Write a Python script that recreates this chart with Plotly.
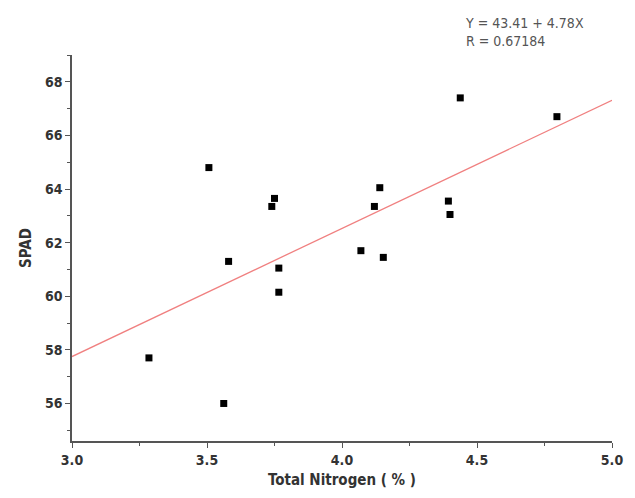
import plotly.graph_objects as go

# Measured samples: total nitrogen (%) and SPAD readings
total_nitrogen = [3.285, 3.507, 3.58, 3.562, 3.74, 3.75, 3.766, 3.766,
                  4.07, 4.12, 4.14, 4.153, 4.394, 4.40, 4.438, 4.796]
spad = [57.7, 64.8, 61.3, 56.0, 63.35, 63.65, 61.05, 60.15,
        61.7, 63.35, 64.05, 61.45, 63.55, 63.05, 67.4, 66.7]

# Linear regression reported for the data
intercept = 43.41
slope = 4.78
r_value = 0.67184
fit_x = [3.0, 5.0]
fit_y = [intercept + slope * v for v in fit_x]

x_ticks = [3.0, 3.5, 4.0, 4.5, 5.0]
y_ticks = [56, 58, 60, 62, 64, 66, 68]

narrow = "DejaVu Sans Condensed, Liberation Sans Narrow, Arial Narrow, sans-serif"
tick_font = dict(family=narrow, size=14, color="#333333", weight="bold")
title_font = dict(family=narrow, size=15, color="#333333")

fig = go.Figure()
fig.add_trace(go.Scatter(
    x=fit_x, y=fit_y, mode="lines",
    line=dict(color="#f08080", width=1.3), hoverinfo="skip",
))
fig.add_trace(go.Scatter(
    x=total_nitrogen, y=spad, mode="markers",
    marker=dict(symbol="square", size=7, color="#000000"), cliponaxis=False,
))

fig.add_annotation(
    xref="paper", yref="paper", x=0.724, y=1.01, xanchor="left", yanchor="bottom",
    text=f"Y = {intercept:.2f} + {slope:.2f}X<br>R = {r_value:.5f}",
    showarrow=False, align="left",
    font=dict(family=narrow, size=14, color="#555555"),
)

axis_common = dict(
    showline=True, linecolor="#555555", linewidth=1.5,
    ticks="outside", ticklen=5, tickwidth=1.2, tickcolor="#555555",
    showgrid=False, zeroline=False, tickfont=tick_font,
)

fig.update_xaxes(
    range=[3.0, 5.0], tickvals=x_ticks, ticktext=[f"{v:.1f}" for v in x_ticks],
    minor=dict(dtick=0.25, ticks="outside", ticklen=3, tickcolor="#555555"),
    title=dict(text="<b>Total Nitrogen ( % )</b>", font=title_font, standoff=8),
    **axis_common,
)
fig.update_yaxes(
    range=[54.6, 69.0], tickvals=y_ticks,
    minor=dict(dtick=1, ticks="outside", ticklen=3, tickcolor="#555555"),
    title=dict(text="<b>SPAD</b>", font=title_font, standoff=10),
    **axis_common,
)

fig.update_layout(
    width=635, height=498, showlegend=False,
    margin=dict(l=72, r=15, t=55, b=55),
    plot_bgcolor="white", paper_bgcolor="white",
)

fig.write_html("out.html")
